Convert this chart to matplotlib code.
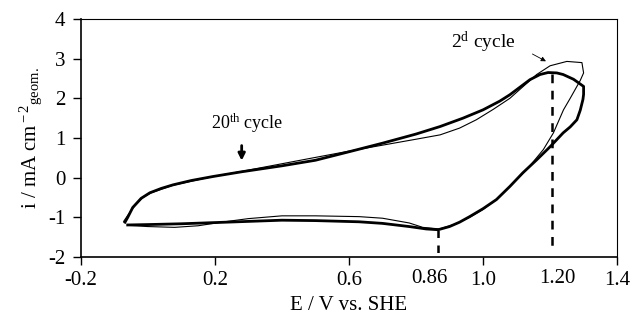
import matplotlib
matplotlib.use('Agg')
import matplotlib.pyplot as plt

plt.rcParams['font.family'] = 'Liberation Serif'
plt.rcParams['mathtext.fontset'] = 'custom'
plt.rcParams['mathtext.rm'] = 'Liberation Serif'
plt.rcParams['mathtext.it'] = 'Liberation Serif:italic'
plt.rcParams['axes.unicode_minus'] = False

### 20th cycle (thick line), anodic then cathodic sweep
E_20 = [-0.068, -0.06, -0.045, -0.02, 0.006, 0.04, 0.075, 0.13, 0.194, 0.28, 0.40, 0.50,
        0.603, 0.70, 0.80, 0.872, 0.94, 1.0, 1.05, 1.08, 1.14, 1.17, 1.194, 1.22, 1.239,
        1.27, 1.30, 1.30, 1.298, 1.29, 1.28, 1.26, 1.239, 1.2, 1.16, 1.119, 1.08, 1.04,
        1.0, 0.96, 0.93, 0.90, 0.866, 0.83, 0.78, 0.70, 0.63, 0.50, 0.40, 0.30, 0.20,
        0.10, 0.0, -0.06]
i_20 = [-1.12, -1.0, -0.75, -0.52, -0.38, -0.27, -0.18, -0.07, 0.03, 0.15, 0.30, 0.44,
        0.66, 0.87, 1.10, 1.29, 1.50, 1.71, 1.93, 2.09, 2.47, 2.60, 2.65, 2.64, 2.60,
        2.48, 2.30, 2.10, 1.97, 1.70, 1.46, 1.28, 1.13, 0.78, 0.45, 0.126, -0.22, -0.55,
        -0.78, -0.98, -1.12, -1.23, -1.31, -1.29, -1.23, -1.15, -1.11, -1.08, -1.07, -1.10,
        -1.13, -1.16, -1.18, -1.19]

### 2nd cycle (thin line)
E_2 = [-0.072, -0.06, -0.04, -0.015, 0.01, 0.075, 0.194, 0.28, 0.38, 0.48, 0.60, 0.70,
       0.80, 0.872, 0.93, 0.98, 1.03, 1.08, 1.12, 1.16, 1.20, 1.25, 1.295, 1.30, 1.29,
       1.28, 1.26, 1.24, 1.21, 1.18, 1.13, 1.08, 1.04, 1.0, 0.96, 0.92, 0.87, 0.82, 0.78,
       0.70, 0.63, 0.50, 0.40, 0.30, 0.22, 0.15, 0.08, 0.0, -0.06]
i_2 = [-1.10, -0.95, -0.72, -0.50, -0.38, -0.19, 0.03, 0.16, 0.32, 0.48, 0.67, 0.82,
       0.97, 1.08, 1.25, 1.46, 1.72, 2.0, 2.3, 2.6, 2.82, 2.93, 2.90, 2.64, 2.45,
       2.30, 2.0, 1.71, 1.13, 0.71, 0.20, -0.22, -0.55, -0.80, -1.0, -1.16, -1.29, -1.25, -1.14,
       -1.02, -0.98, -0.96, -0.96, -1.03, -1.12, -1.21, -1.25, -1.23, -1.20]

x_ticks = [-0.2, 0.2, 0.6, 1.0, 1.4]
x_ticklabels = ['-0.2', '0.2', '0.6', '1.0', '1.4']
y_ticks = [-2, -1, 0, 1, 2, 3, 4]

# marked potentials
E_cath_peak = 0.866
E_anod_peak = 1.205

fig = plt.figure(figsize=(6.31, 3.21), dpi=100)
ax = fig.add_axes([0.128, 0.199, 0.850, 0.742])

ax.plot(E_2, i_2, color='black', lw=0.8)
ax.plot(E_20, i_20, color='black', lw=2.0)

# dashed markers
ax.plot([E_cath_peak, E_cath_peak], [-1.31, -1.95], color='black', lw=1.8, dashes=(3, 3))
ax.plot([E_anod_peak, E_anod_peak], [2.62, -1.75], color='black', lw=1.8, dashes=(3.5, 3))

ax.set_xlim(-0.2, 1.4)
ax.set_ylim(-2, 4)
ax.set_xticks(x_ticks)
ax.set_xticklabels(x_ticklabels)
ax.set_yticks(y_ticks)
ax.tick_params(direction='out', length=6, width=1, labelsize=15)
ax.tick_params(axis='x', pad=4)
ax.tick_params(axis='y', pad=5)

for s in ax.spines.values():
    s.set_linewidth(0.8)
ax.spines['left'].set_linewidth(1.2)
ax.spines['bottom'].set_linewidth(1.2)

ax.text(0.84, -0.088, '0.86', transform=ax.get_xaxis_transform(), ha='center', va='center', fontsize=15)
ax.text(1.222, -0.088, '1.20', transform=ax.get_xaxis_transform(), ha='center', va='center', fontsize=15)

ax.set_xlabel('E / V vs. SHE', fontsize=15, labelpad=4)
ax.set_ylabel(r'i / mA cm$^{\rm -2}$$_{\rm geom.}$', fontsize=15, labelpad=3)

# annotations
ax.text(0.295, 1.38, r'20$^{\rm th}$ cycle', ha='center', va='center', fontsize=13)
ax.annotate('', xy=(0.28, 0.36), xytext=(0.28, 0.88),
            arrowprops=dict(arrowstyle='-|>', color='black', lw=2, mutation_scale=10))
ax.text(1.0, 3.42, r'2$^{\rm d}$ cycle', ha='center', va='center', fontsize=14)
ax.annotate('', xy=(1.195, 2.9), xytext=(1.14, 3.15),
            arrowprops=dict(arrowstyle='-|>', color='black', lw=0.6, mutation_scale=7))

fig.savefig('out.png', dpi=100)
